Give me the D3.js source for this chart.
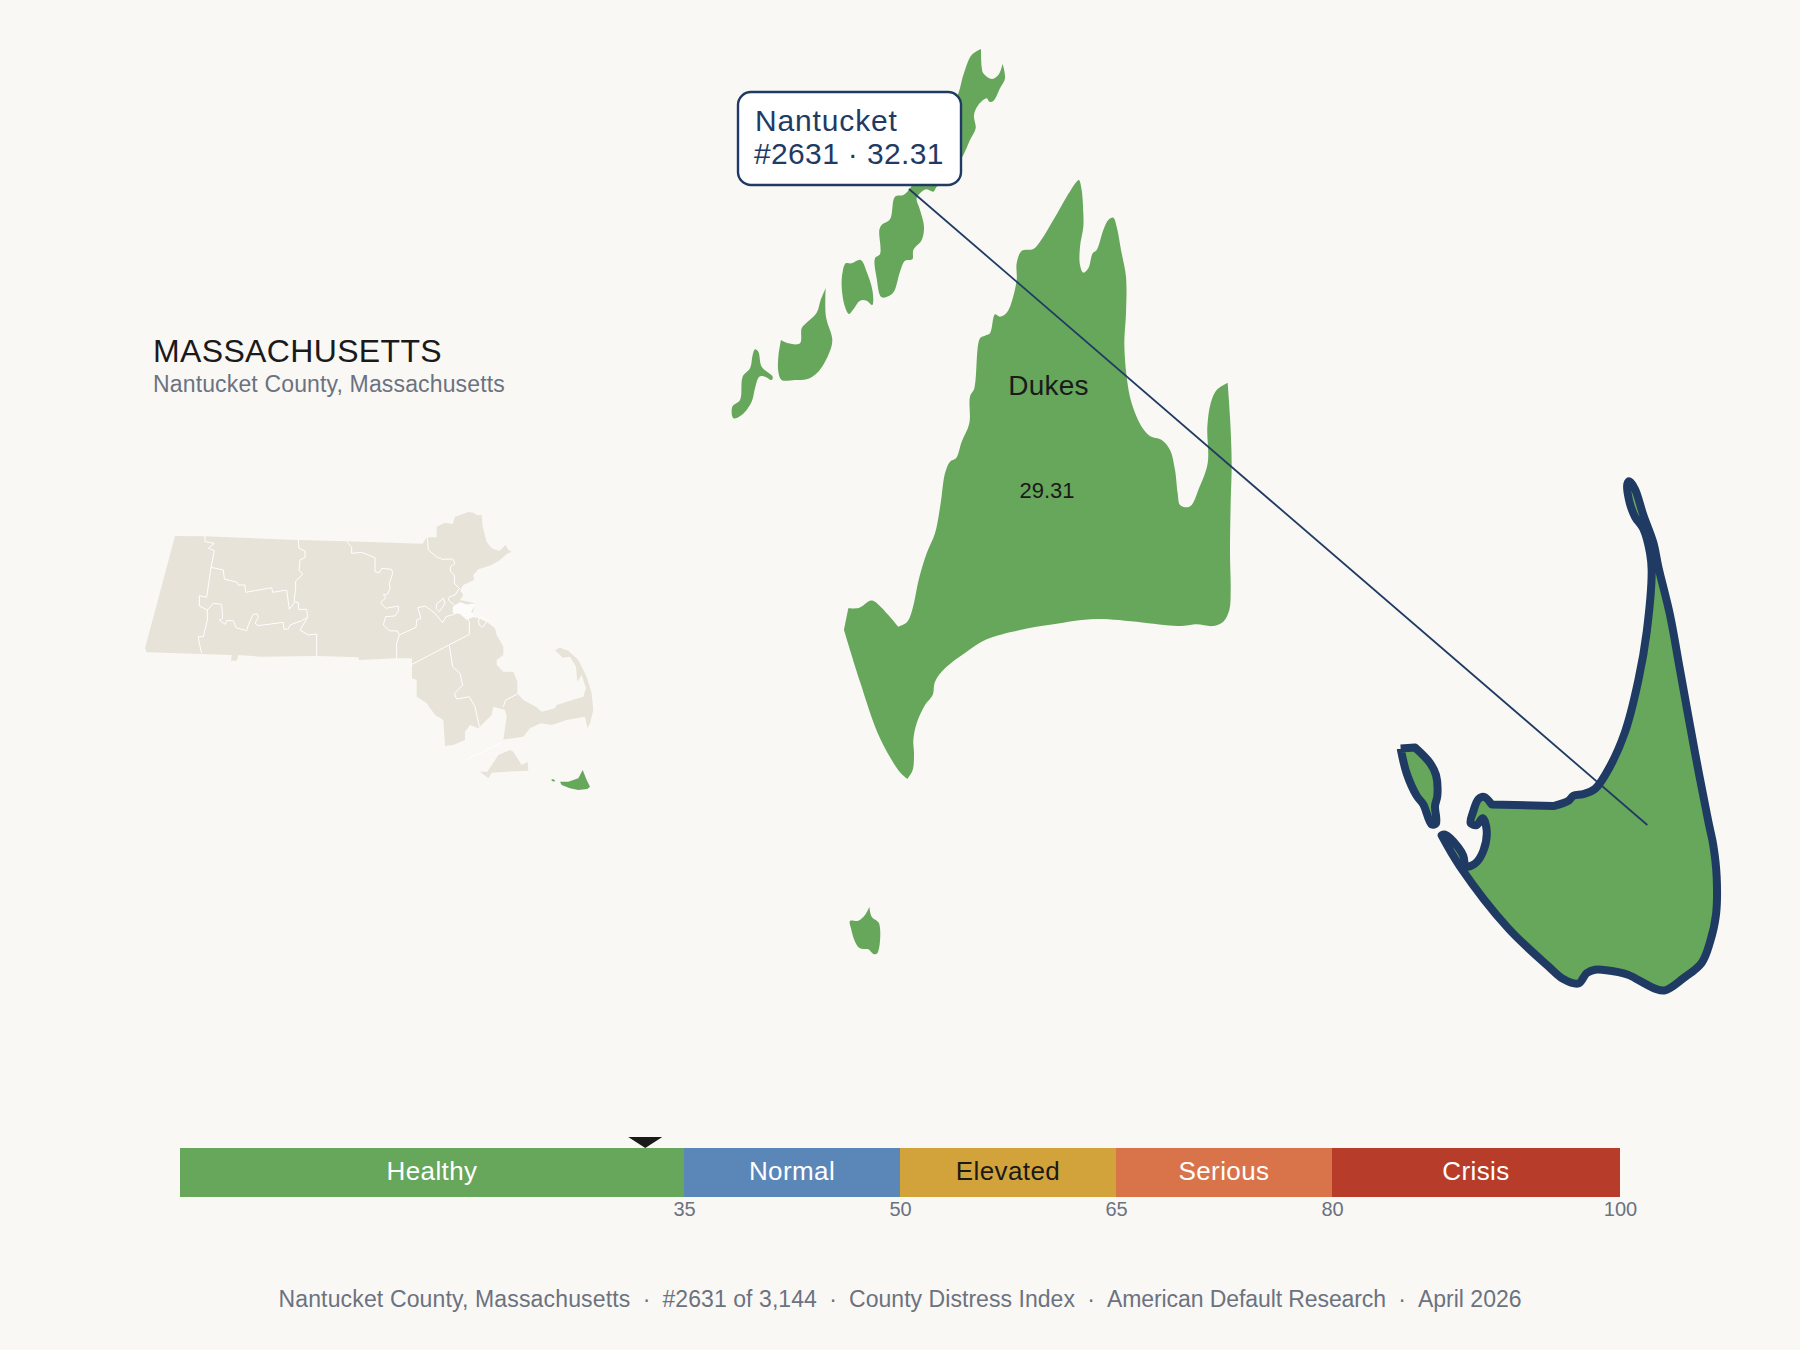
<!DOCTYPE html>
<html>
<head>
<meta charset="utf-8">
<script src="https://cdn.jsdelivr.net/npm/d3@7"></script>
<style>
  html, body { margin: 0; padding: 0; background: #faf8f5; }
  svg { display: block; }
  text { font-family: "Liberation Sans", Arial, sans-serif; }
</style>
</head>
<body>
<svg id="chart" width="1800" height="1350"></svg>
<script>
// score bands
const bandNames = ["Healthy", "Normal", "Elevated", "Serious", "Crisis"];
const bandStarts = [0, 35, 50, 65, 80];
const bandEnds = [35, 50, 65, 80, 100];
const bandColors = ["#66a75b", "#5b87b8", "#d2a33a", "#d9744a", "#b73c2a"];
const bandTextColors = ["#ffffff", "#ffffff", "#1a1a1a", "#ffffff", "#ffffff"];
const tickValues = [35, 50, 65, 80, 100];

const countyName = "Nantucket";
const countyRank = 2631;
const countyScore = 32.31;
const neighborName = "Dukes";
const neighborScore = 29.31;

const titleText = "MASSACHUSETTS";
const subtitleText = "Nantucket County, Massachusetts";
const footerParts = ["Nantucket County, Massachusetts", "#2631 of 3,144", "County Distress Index", "American Default Research", "April 2026"];
const footerTracking = [0.15, 0.08, 0.05, -0.09, 0];

// state locator, outlines in locator map units
const stateMainland = [[165,168],[255,169],[535,180],[680,184],[908,191],[920,172],[950,172],[950,140],[975,128],[998,132],[1005,110],[1045,96],[1060,98],[1072,106],[1085,105],[1088,140],[1100,185],[1115,205],[1138,213],[1157,195],[1165,210],[1175,215],[1160,222],[1140,240],[1115,255],[1075,268],[1060,285],[1062,300],[1030,315],[1020,330],[1030,345],[1020,360],[1065,370],[1055,410],[1075,415],[1100,425],[1125,445],[1130,465],[1150,500],[1150,525],[1130,540],[1130,555],[1150,575],[1180,575],[1192,605],[1192,640],[1210,660],[1250,682],[1265,695],[1305,685],[1310,675],[1340,665],[1390,650],[1398,625],[1385,585],[1372,605],[1368,560],[1350,530],[1328,533],[1305,510],[1320,503],[1345,512],[1375,540],[1400,590],[1415,640],[1420,690],[1410,730],[1402,745],[1395,710],[1340,720],[1295,735],[1262,730],[1230,745],[1210,770],[1155,778],[1150,780],[1160,710],[1155,690],[1120,680],[1115,705],[1075,745],[1050,735],[1035,755],[1035,780],[1000,795],[975,798],[970,720],[945,705],[920,670],[890,650],[890,600],[876,595],[876,535],[830,535],[716,540],[716,532],[590,528],[420,530],[355,525],[350,542],[333,542],[335,525],[80,517],[75,505]];
const stateVineyard = [[1080,875],[1105,895],[1115,878],[1160,875],[1225,872],[1223,845],[1205,855],[1180,815],[1170,810],[1135,825],[1102,875]];
const stateNantucket = [[1320,905],[1345,905],[1375,895],[1388,870],[1400,900],[1410,920],[1402,927],[1375,930],[1350,925],[1325,915]];
const stateTuckernuck = [[1295,897],[1305,900],[1303,905],[1295,902]];
const stateHarbor = [[1000,380],[1020,368],[1040,375],[1065,372],[1052,395],[1062,408],[1040,418],[1020,400],[1000,398]];
const countyBorders = [
  [[255,168],[255,185],[283,190],[265,205],[283,212],[273,262],[260,352],[238,347],[238,378],[262,390],[262,420],[250,470],[235,470],[238,490],[245,520]],
  [[273,262],[310,270],[313,297],[352,307],[355,315],[375,315],[377,337],[455,323],[458,337],[500,330],[508,388],[525,365],[535,368],[535,388],[560,388],[563,412],[540,450],[565,465],[590,462],[590,528]],
  [[535,180],[537,205],[555,213],[555,232],[540,240],[537,270],[548,283],[527,303],[527,325],[522,365]],
  [[262,390],[280,370],[305,373],[308,415],[298,420],[315,433],[320,422],[340,422],[348,443],[380,452],[385,435],[400,402],[412,402],[415,412],[405,430],[415,437],[490,427],[492,448],[505,447],[510,435],[545,422],[563,412]],
  [[680,184],[695,202],[695,220],[725,217],[765,233],[765,275],[778,278],[785,265],[815,268],[818,280],[808,310],[810,325],[803,342],[790,345],[798,352],[782,368],[797,385],[835,378],[835,393],[825,408],[797,410],[790,435],[808,452],[832,453],[838,465],[830,490],[830,535]],
  [[838,465],[860,455],[888,442],[890,420],[903,415],[893,383],[915,378],[945,400],[968,428],[978,410],[1005,402],[1012,392]],
  [[876,553],[1048,463],[1048,425],[1035,405]],
  [[988,497],[998,560],[1020,580],[1028,615],[1003,640],[1010,657],[1048,650],[1065,680],[1078,740]],
  [[1150,680],[1157,660],[1192,642]],
  [[922,170],[925,210],[955,235],[960,232],[965,238],[998,237],[1005,250],[990,262],[992,275],[1003,285],[1003,310],[1018,325],[1005,345],[988,350],[985,360],[1003,375]],
  [[950,372],[970,355],[975,370],[958,395],[948,385],[950,372]],
  [[1075,420],[1085,410],[1100,425],[1088,442],[1078,435],[1075,420]],
  [[1040,838],[1090,815],[1140,790]]
];

// Dukes panel, outlines in panel units, a doubled point is a sharp corner
const dukesUpperIsle = [[843,57],[843,57],[845,110],[850,130],[875,147],[895,135],[908,102],[908,102],[915,145],[900,175],[880,213],[868,215],[860,205],[835,225],[822,255],[827,295],[810,330],[790,375],[750,440],[710,470],[700,485],[680,478],[665,485],[650,505],[660,540],[672,590],[665,630],[640,660],[637,688],[615,692],[600,725],[578,790],[545,802],[530,745],[525,685],[540,672],[538,600],[545,585],[570,568],[585,500],[610,495],[628,478],[700,350],[775,190],[790,135],[815,75]];
const dukesMiddleIsle = [[437,700],[455,700],[482,690],[500,725],[518,785],[517,825],[500,812],[480,812],[460,838],[447,852],[435,830],[425,770],[428,725]];
const dukesLowerIsle = [[377,775],[377,775],[378,860],[397,930],[385,975],[355,1025],[320,1048],[285,1050],[245,1050],[235,1025],[235,980],[243,930],[243,930],[265,940],[300,940],[305,895],[318,880],[350,848],[362,810]];
const dukesTipIsle = [[165,958],[175,965],[185,1010],[218,1040],[215,1050],[195,1040],[178,1040],[165,1075],[155,1115],[125,1155],[100,1165],[97,1130],[120,1110],[128,1040],[150,1015],[158,975]];
const dukesVineyard = [[1137,450],[1145,480],[1150,550],[1150,590],[1140,650],[1140,705],[1150,728],[1165,715],[1178,670],[1190,660],[1210,600],[1225,570],[1240,563],[1250,590],[1265,670],[1278,740],[1278,850],[1273,940],[1280,1040],[1295,1120],[1325,1190],[1350,1218],[1385,1230],[1410,1260],[1425,1320],[1433,1390],[1440,1425],[1460,1432],[1475,1425],[1495,1380],[1523,1300],[1522,1190],[1532,1120],[1550,1080],[1583,1058],[1583,1058],[1590,1160],[1595,1300],[1592,1420],[1590,1570],[1592,1680],[1588,1740],[1570,1775],[1540,1788],[1490,1783],[1445,1788],[1190,1767],[1060,1783],[960,1800],[860,1828],[800,1865],[735,1915],[705,1955],[698,1995],[675,2025],[650,2080],[640,2130],[642,2170],[638,2220],[622,2247],[622,2247],[600,2227],[540,2125],[480,1955],[432,1800],[432,1800],[445,1735],[445,1735],[478,1733],[510,1712],[525,1715],[595,1790],[595,1790],[622,1775],[638,1735],[656,1650],[680,1570],[705,1510],[722,1420],[735,1330],[750,1295],[768,1285],[785,1235],[808,1180],[810,1100],[823,1075],[840,925],[855,917],[870,910],[885,853],[900,860],[920,848],[932,825],[950,750],[950,700],[965,663],[1000,657],[1020,635],[1060,570],[1100,500],[1130,455]];
const dukesNomans = [[450,2673],[475,2672],[495,2655],[508,2630],[508,2630],[515,2660],[537,2680],[532,2770],[520,2772],[505,2758],[480,2755],[465,2735],[453,2695]];

// Nantucket panel, outlines in panel units
const nantucketMain = [[748,62],[765,85],[790,160],[820,240],[835,310],[870,450],[900,610],[945,850],[985,1050],[1000,1120],[1010,1210],[1008,1320],[990,1400],[965,1460],[910,1505],[855,1540],[825,1535],[745,1495],[715,1487],[645,1480],[620,1490],[595,1520],[550,1507],[505,1470],[385,1360],[240,1180],[185,1090],[185,1090],[195,1088],[235,1125],[250,1150],[258,1180],[285,1172],[310,1135],[320,1075],[308,1040],[290,1060],[272,1055],[280,1020],[295,985],[312,978],[335,1000],[335,1000],[520,1005],[520,1005],[565,990],[580,975],[610,970],[645,955],[690,890],[735,790],[775,640],[800,500],[815,320],[810,270],[790,200],[765,165],[748,120],[742,70]];
const nantucketTuckernuck = [[62,838],[62,838],[105,835],[105,835],[150,880],[168,915],[172,975],[165,1005],[168,1055],[155,1058],[130,1000],[110,975],[80,910]];
const leaderFrom = [-1413, -787];
const leaderTo = [802, 1060];

const ink = "#1a1a1a";
const grey = "#6b7280";
const navy = "#1f3b63";
const land = "#e8e3d8";
const green = bandColors[0];

const svg = d3.select("#chart");

// map scales
const stX = d3.scaleLinear().domain([0, 1500]).range([120, 620]);
const stY = d3.scaleLinear().domain([0, 1020]).range([480, 820]);
const duX = d3.scaleLinear().domain([0, 1020]).range([700, 1040]);
const duY = d3.scaleLinear().domain([0, 1200]).range([30, 430]);
const naX = d3.scaleLinear().domain([0, 1080]).range([1380, 1740]);
const naY = d3.scaleLinear().domain([0, 1568]).range([460, 1000]);

const stLine = d3.line().x(d => stX(d[0])).y(d => stY(d[1]));
const duLine = d3.line().x(d => duX(d[0])).y(d => duY(d[1])).curve(d3.curveCatmullRomClosed.alpha(0.5));
const naLine = d3.line().x(d => naX(d[0])).y(d => naY(d[1])).curve(d3.curveCatmullRomClosed.alpha(0.5));

// locator
const locator = svg.append("g");
locator.selectAll("path.land")
  .data([stateMainland, stateVineyard])
  .enter().append("path")
  .attr("class", "land")
  .attr("d", d => stLine(d) + "Z")
  .attr("fill", land);
locator.append("path")
  .attr("d", stLine(stateHarbor) + "Z")
  .attr("fill", "#fdfcfa")
  .attr("stroke", "#ffffff");
locator.selectAll("path.border")
  .data(countyBorders)
  .enter().append("path")
  .attr("class", "border")
  .attr("d", stLine)
  .attr("fill", "none")
  .attr("stroke", "#ffffff")
  .attr("stroke-width", 1);
locator.selectAll("path.hit")
  .data([stateNantucket, stateTuckernuck])
  .enter().append("path")
  .attr("class", "hit")
  .attr("d", d => stLine(d) + "Z")
  .attr("fill", green);

// Dukes
svg.selectAll("path.dukes")
  .data([dukesUpperIsle, dukesMiddleIsle, dukesLowerIsle, dukesTipIsle, dukesVineyard, dukesNomans])
  .enter().append("path")
  .attr("class", "dukes")
  .attr("d", duLine)
  .attr("fill", green);

// Nantucket
svg.selectAll("path.nantucket")
  .data([nantucketMain, nantucketTuckernuck])
  .enter().append("path")
  .attr("class", "nantucket")
  .attr("d", naLine)
  .attr("fill", green)
  .attr("stroke", navy)
  .attr("stroke-width", 8)
  .attr("stroke-linejoin", "round");

// leader
svg.append("line")
  .attr("x1", naX(leaderFrom[0])).attr("y1", naY(leaderFrom[1]))
  .attr("x2", naX(leaderTo[0])).attr("y2", naY(leaderTo[1]))
  .attr("stroke", navy)
  .attr("stroke-width", 1.8);

// callout
svg.append("rect")
  .attr("x", 738).attr("y", 92)
  .attr("width", 223).attr("height", 93)
  .attr("rx", 13)
  .attr("fill", "#ffffff")
  .attr("stroke", navy)
  .attr("stroke-width", 2.4);
svg.append("text")
  .attr("x", 755).attr("y", 131)
  .attr("font-size", 30).attr("fill", navy)
  .attr("letter-spacing", 0.85)
  .text(countyName);
svg.append("text")
  .attr("x", 754).attr("y", 164)
  .attr("font-size", 30).attr("fill", navy)
  .attr("letter-spacing", 0.35)
  .text("#" + countyRank + " · " + countyScore);

// neighbor labels
svg.append("text")
  .attr("x", 1048.5).attr("y", 395)
  .attr("text-anchor", "middle")
  .attr("font-size", 28).attr("fill", ink)
  .attr("letter-spacing", 0.2)
  .text(neighborName);
svg.append("text")
  .attr("x", 1047).attr("y", 498)
  .attr("text-anchor", "middle")
  .attr("font-size", 22).attr("fill", ink)
  .text(neighborScore);

// title block
svg.append("text")
  .attr("x", 153).attr("y", 362)
  .attr("font-size", 32).attr("fill", ink)
  .attr("letter-spacing", 0.35)
  .text(titleText);
svg.append("text")
  .attr("x", 153).attr("y", 392)
  .attr("font-size", 23).attr("fill", grey)
  .attr("letter-spacing", 0.15)
  .text(subtitleText);

// score bar
const x = d3.scaleLinear().domain([0, 100]).range([180, 1620]);
const barTop = 1148;
const barHeight = 49;

svg.selectAll("rect.band")
  .data(bandNames)
  .enter().append("rect")
  .attr("class", "band")
  .attr("x", (d, i) => x(bandStarts[i]))
  .attr("y", barTop)
  .attr("width", (d, i) => x(bandEnds[i]) - x(bandStarts[i]))
  .attr("height", barHeight)
  .attr("fill", (d, i) => bandColors[i]);

svg.selectAll("text.band")
  .data(bandNames)
  .enter().append("text")
  .attr("class", "band")
  .attr("x", (d, i) => (x(bandStarts[i]) + x(bandEnds[i])) / 2)
  .attr("y", barTop + 32)
  .attr("text-anchor", "middle")
  .attr("font-size", 26)
  .attr("letter-spacing", 0.4)
  .attr("fill", (d, i) => bandTextColors[i])
  .text(d => d);

const axis = svg.append("g")
  .attr("transform", "translate(0," + (barTop + barHeight) + ")")
  .call(d3.axisBottom(x).tickValues(tickValues).tickSize(0).tickPadding(5));
axis.select(".domain").remove();
axis.selectAll("text")
  .attr("font-family", null)
  .attr("font-size", 20)
  .attr("fill", grey);

// score marker
const markerLine = d3.line();
svg.append("path")
  .attr("d", markerLine([[x(countyScore) - 17, barTop - 11], [x(countyScore) + 17, barTop - 11], [x(countyScore), barTop]]) + "Z")
  .attr("fill", ink);

// footer
const footer = svg.append("text")
  .attr("x", 900).attr("y", 1307)
  .attr("text-anchor", "middle")
  .attr("font-size", 23)
  .attr("fill", grey)
  .style("white-space", "pre");
footerParts.forEach((part, i) => {
  if (i > 0) {
    footer.append("tspan").attr("letter-spacing", -0.25).text("  ·  ");
  }
  footer.append("tspan").attr("letter-spacing", footerTracking[i]).text(part);
});
</script>
</body>
</html>
